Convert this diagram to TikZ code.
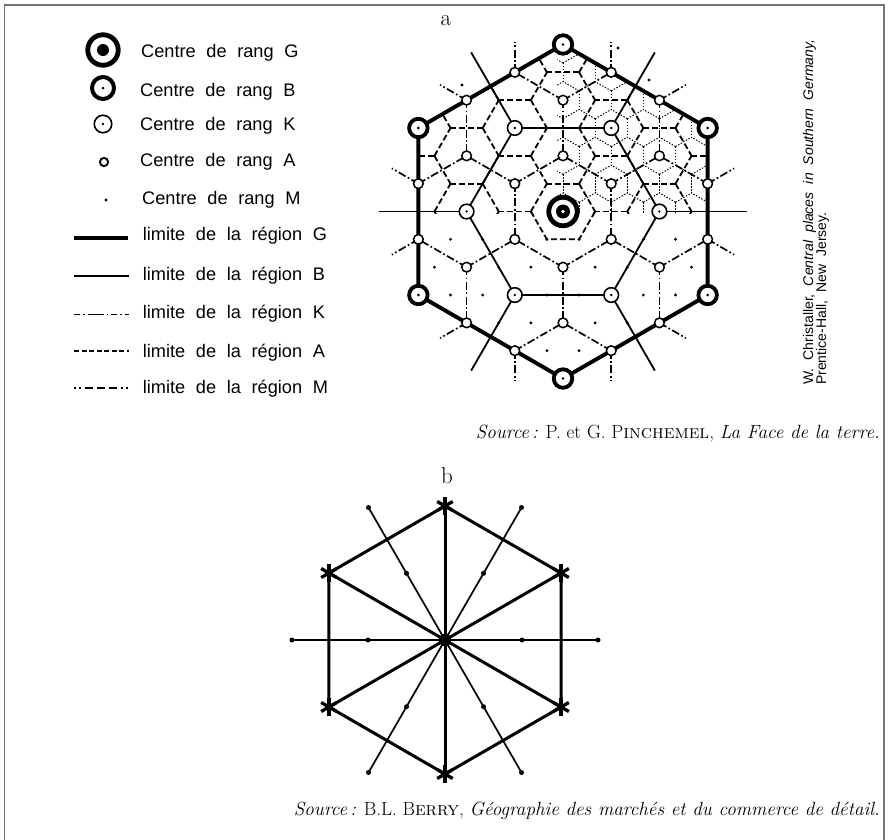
\documentclass[tikz,border=0pt]{standalone}
\usepackage{fontspec}
\newfontfamily\legfont[WordSpace=1.45]{Liberation Sans}
\newfontfamily\notefont[WordSpace=2.1]{Liberation Sans}
\definecolor{framegray}{gray}{0.45}
\begin{document}
\begin{tikzpicture}[x=1pt,y=-1pt,
  gline/.style={line width=3.9pt,line join=round},
  bline/.style={line width=1.8pt},
  kline/.style={line width=1.7pt,dash pattern=on 8pt off 2.5pt on 1.7pt off 2.5pt},
  aline/.style={line width=1.8pt,dash pattern=on 6pt off 3pt},
  mline/.style={line width=1pt,dash pattern=on 1.4pt off 1.6pt},
  gcirc/.style={circle,draw,fill=white,line width=4.8pt,minimum size=28.5pt,inner sep=0pt},
  bcirc/.style={circle,draw,fill=white,line width=3.8pt,minimum size=18.5pt,inner sep=0pt},
  kcirc/.style={circle,draw,fill=white,line width=1.6pt,minimum size=14.6pt,inner sep=0pt},
  acirc/.style={circle,draw,fill=white,line width=1.5pt,minimum size=9.7pt,inner sep=0pt},
  legtxt/.style={font=\legfont\fontsize{18.2}{20}\selectfont,inner sep=0pt,anchor=base west},
  notetxt/.style={font=\notefont\fontsize{14}{16}\selectfont,inner sep=0pt,rotate=90,anchor=base west},
  srctxt/.style={font=\fontsize{19.1}{22}\selectfont,inner sep=0pt,anchor=base east},
  lettxt/.style={font=\fontsize{23}{25}\selectfont,inner sep=0pt,anchor=base},
  bthick/.style={line width=3pt,line join=round},
  bthin/.style={line width=1.7pt}
]
\useasboundingbox (0,0) rectangle (888,839);
\fill[white] (0,0) rectangle (888,839);
\draw[framegray,line width=1.5pt] (4.5,850) -- (4.5,5) -- (884,5) -- (884,850);

% ---------------- legend ----------------
\node[gcirc,minimum size=30.5pt] (lgG) at (103,50) {};
\fill (lgG.center) circle (6pt);
\node[bcirc,line width=4pt,minimum size=22pt] (lgB) at (103,88) {};
\fill (lgB.center) circle (1.5pt);
\node[kcirc,line width=1.6pt,minimum size=17.5pt] (lgK) at (103,124) {};
\fill (lgK.center) circle (1.3pt);
\node[acirc,line width=1.9pt,minimum size=8.2pt] (lgA) at (104,162) {};
\fill (106,200) circle (1.6pt);

\node[legtxt] (tG) at (141,57) {Centre de rang G};
\node[legtxt] (tB) at (140,96.5) {Centre de rang B};
\node[legtxt] (tK) at (140,130) {Centre de rang K};
\node[legtxt] (tA) at (140,166.5) {Centre de rang A};
\node[legtxt] (tM) at (142,204) {Centre de rang M};

\coordinate (lg1a) at (74,237.7); \coordinate (lg1b) at (128,237.7);
\coordinate (lg2a) at (74,276);   \coordinate (lg2b) at (129,276);
\coordinate (lg3a) at (74,314.3); \coordinate (lg3b) at (129,314.3);
\coordinate (lg4a) at (74,351);   \coordinate (lg4b) at (129,351);
\coordinate (lg5a) at (74,388);   \coordinate (lg5b) at (130,388);
\draw[line width=4.4pt] (lg1a) -- (lg1b);
\draw[line width=1.6pt] (lg2a) -- (lg2b);
\draw[line width=1.6pt,dash pattern=on 6pt off 3pt on 1.5pt off 3pt on 16pt off 3pt on 1.5pt off 3pt] (lg3a) -- (lg3b);
\draw[line width=1.6pt,dash pattern=on 5pt off 2.5pt] (lg4a) -- (lg4b);
\draw[line width=1.2pt,dash pattern=on 2pt off 3pt on 2pt off 4pt on 8pt off 4pt on 8pt off 4pt on 8pt off 4pt] (lg5a) -- (lg5b);

\node[legtxt] (tlG) at (142.7,240) {limite de la région G};
\node[legtxt] (tlB) at (142.7,280) {limite de la région B};
\node[legtxt] (tlK) at (142.7,318) {limite de la région K};
\node[legtxt] (tlA) at (142.7,357) {limite de la région A};
\node[legtxt] (tlM) at (142.7,393) {limite de la région M};

% ---------------- labels ----------------
\node[lettxt] (la) at (446,25) {a};
\node[lettxt] (lb) at (447,483) {b};

\node[notetxt] (n1) at (813,385) {W. Christaller, \textit{Central places in Southern Germany,}};
\node[notetxt] (n2) at (826,385) {Prentice-Hall, New Jersey.};

\node[srctxt] (s1) at (880,438) {\textit{Source\,:} P. et G. P\textsc{inchemel}, \textit{La Face de la terre.}};
\node[srctxt] (s2) at (880,815) {\textit{Source\,:} B.L. B\textsc{erry}, \textit{Géographie des marchés et du commerce de détail.}};

% outside M dots
\fill (462,85) circle (1.6pt);
\fill (649,80) circle (1.6pt);
\fill (618,48) circle (1.6pt);

% ---------------- diagram a ----------------
\begin{scope}[shift={(563,211.5)},x=55.67pt,y=55.67pt]
  % K region boundaries
  \begin{scope}
    \clip (30:3)--(90:3)--(150:3)--(210:3)--(270:3)--(330:3)--cycle;
    \foreach \i in {-4,...,4}{
      \foreach \j in {-5,...,5}{
        \pgfmathtruncatemacro\cc{mod(\i-\j+30,3)}
        \ifnum\cc=1
          \pgfmathsetmacro\px{0.8660254*\i}
          \pgfmathsetmacro\py{0.5*\i+\j}
          \draw[kline] (\px,\py) -- ++(30:1);
          \draw[kline] (\px,\py) -- ++(150:1);
          \draw[kline] (\px,\py) -- ++(270:1);
        \fi
      }
    }
  \end{scope}
  % A region boundaries (upper half)
  \begin{scope}
    \clip (30:3)--(90:3)--(150:3)--(210:3)--(270:3)--(330:3)--cycle;
    \clip (-3.5,-0.03) rectangle (3.5,3.5);
    \foreach \i in {-4,...,4}{
      \foreach \j in {-5,...,5}{
        \pgfmathsetmacro\px{0.288675+0.8660254*\i}
        \pgfmathsetmacro\py{0.5+0.5*\i+\j}
        \draw[aline] (\px,\py) -- ++(60:0.57735);
        \draw[aline] (\px,\py) -- ++(180:0.57735);
        \draw[aline] (\px,\py) -- ++(300:0.57735);
      }
    }
  \end{scope}
  \draw[aline] (180:0.57735)--(240:0.57735)--(300:0.57735)--(0:0.57735);
  % M region boundaries (upper right)
  \begin{scope}
    \clip (30:3)--(90:3)--(150:3)--(210:3)--(270:3)--(330:3)--cycle;
    \clip (-0.1,-0.03) rectangle (3.5,3.5);
    \foreach \i in {-1,...,10}{
      \foreach \j in {-7,...,10}{
        \pgfmathtruncatemacro\cc{mod(\i-\j+60,3)}
        \ifnum\cc=1
          \pgfmathsetmacro\px{0.2886751*\i}
          \pgfmathsetmacro\py{(0.5*\i+\j)/3}
          \draw[mline] (\px,\py) -- ++(30:0.33333);
          \draw[mline] (\px,\py) -- ++(150:0.33333);
          \draw[mline] (\px,\py) -- ++(270:0.33333);
        \fi
      }
    }
  \end{scope}
  % M centres (lower half)
  \begin{scope}
    \clip (30:3)--(90:3)--(150:3)--(210:3)--(270:3)--(330:3)--cycle;
    \clip (-3.5,-0.1) rectangle (3.5,-3.5);
    \foreach \i in {-4,...,4}{
      \foreach \j in {-5,...,4}{
        \pgfmathsetmacro\mux{0.288675+0.8660254*\i}
        \pgfmathsetmacro\muy{0.5+0.5*\i+\j}
        \pgfmathsetmacro\mdx{0.57735+0.8660254*\i}
        \pgfmathsetmacro\mdy{0.5*\i+\j}
        \fill (\mux,\muy) circle (1.6pt);
        \fill (\mdx,\mdy) circle (1.6pt);
      }
    }
  \end{scope}
  % B region boundaries
  \foreach \a [count=\n] in {0,60,...,300}{
    \coordinate (K\n) at (\a:1.7320508);
    \coordinate (Kout\n) at (\a:3.3);
  }
  \draw[bline] (K1)--(K2)--(K3)--(K4)--(K5)--(K6)--cycle;
  \foreach \n in {1,...,6} \draw[bline] (K\n) -- (Kout\n);
  % G region boundary
  \foreach \a [count=\n] in {30,90,...,330}{
    \coordinate (B\n) at (\a:3);
    \pgfmathsetmacro\ap{\a+19.1066}
    \pgfmathsetmacro\am{\a-19.1066}
    \coordinate (Ap\n) at (\ap:2.6458);
    \coordinate (Am\n) at (\am:2.6458);
  }
  \draw[gline] (B1)--(B2)--(B3)--(B4)--(B5)--(B6)--cycle;
  % K boundary stubs outside
  \foreach \a [count=\n] in {30,90,...,330}{
    \draw[kline] (Ap\n) -- ++(\a:0.55);
    \draw[kline] (Am\n) -- ++(\a:0.55);
  }
  % centres
  \foreach \a [count=\n] in {30,90,...,330}{
    \node[acirc] (Ain\n) at (\a:1) {};
    \node[acirc] (Amid\n) at (\a:2) {};
    \node[acirc] (Aep\n) at (Ap\n) {};
    \node[acirc] (Aem\n) at (Am\n) {};
    \node[bcirc] (Bc\n) at (B\n) {};
    \fill (Bc\n.center) circle (1.4pt);
  }
  \foreach \n in {1,...,6}{
    \node[kcirc] (Kc\n) at (K\n) {};
    \fill (Kc\n.center) circle (1.3pt);
  }
  \node[gcirc] (G) at (0,0) {};
  \fill (G.center) circle (7pt);
  \fill[white] (G.center) circle (1.8pt);
\end{scope}

% ---------------- diagram b ----------------
\begin{scope}[shift={(445,640)},x=1pt,y=1pt]
  \coordinate (O) at (0,0);
  \foreach \a [count=\n] in {30,90,...,330} \coordinate (V\n) at (\a:134);
  \draw[bthick] (V1)--(V2)--(V3)--(V4)--(V5)--(V6)--cycle;
  \foreach \n in {1,...,6} \draw[bthick] (O) -- (V\n);
  \foreach \a [count=\n] in {0,60,...,300}{
    \coordinate (E\n) at (\a:153);
    \coordinate (H\n) at (\a:77);
    \draw[bthin] (O) -- (E\n);
    \fill (E\n) circle (2.5pt);
    \fill (H\n) circle (2.5pt);
  }
  \foreach \n in {1,...,6}{
    \foreach \b in {30,90,150}{
      \draw[line width=3.3pt] (V\n) ++(\b:9) -- ++(\b+180:18);
    }
    \fill (V\n) circle (3.6pt);
  }
  \node[circle,fill,minimum size=12.5pt,inner sep=0pt] (Ob) at (O) {};
\end{scope}
\end{tikzpicture}
\end{document}
